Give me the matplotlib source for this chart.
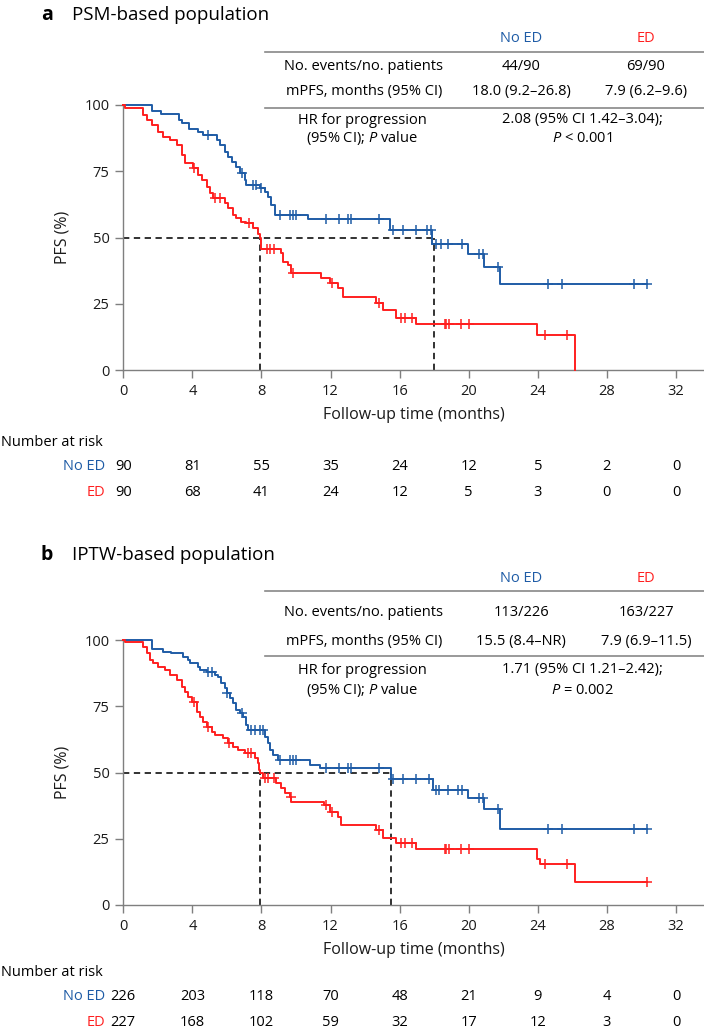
import matplotlib
matplotlib.use("Agg")
import matplotlib.pyplot as plt
from matplotlib.lines import Line2D
from matplotlib.transforms import blended_transform_factory
import numpy as np

plt.rcParams['font.family'] = ['Open Sans', 'DejaVu Sans']
plt.rcParams['mathtext.fontset'] = 'custom'
plt.rcParams['mathtext.rm'] = 'Open Sans'
plt.rcParams['mathtext.it'] = 'Open Sans:italic'

BLUE = '#1f5ca6'
RED = '#ff1f1f'
GREY = '#7f7f7f'

# ---------------- data ----------------
xticks = [0, 4, 8, 12, 16, 20, 24, 28, 32]
yticks = [0, 25, 50, 75, 100]

# Panel a (PSM)
a_noed_t = [0, 1.64, 2.2, 3.2, 3.4, 3.8, 4.3, 4.6, 5.4, 5.6, 5.9, 6.07, 6.27, 6.55, 6.75, 7.03, 7.13,
            7.9, 8.19, 8.38, 8.57, 8.77, 10.7, 15.42, 17.9, 19.94, 20.9, 21.83]
a_noed_s = [100, 97.8, 96.6, 94.4, 93.2, 91.0, 89.8, 88.6, 86.8, 84.9, 82.4, 80.5, 78.6, 76.7, 74.2, 71.7, 69.8,
            68.6, 67.3, 65.4, 62.3, 58.5, 57.0, 52.8, 47.5, 43.8, 39.0, 32.3]
a_noed_end = 30.3
a_noed_cens = [4.9, 6.9, 7.5, 7.7, 8.0, 9.06, 9.64, 9.83, 10.02, 11.75, 12.5, 13.0, 13.2, 14.8, 15.6, 16.2,
               16.97, 17.6, 17.83, 18.1, 18.4, 18.8, 19.6, 20.6, 20.8, 21.7, 24.6, 25.4, 29.6, 30.3]

a_ed_t = [0, 0.1, 1.16, 1.35, 1.64, 2.02, 2.31, 2.7, 3.09, 3.38, 3.57, 4.05, 4.34, 4.53, 4.82, 5.01, 5.2,
          5.88, 6.07, 6.36, 6.55, 6.84, 7.13, 7.51, 7.8, 7.9, 8.0, 9.15, 9.25, 9.54, 9.73, 11.47, 11.95,
          12.43, 12.72, 14.65, 15.03, 15.8, 16.96, 23.93, 26.17]
a_ed_s = [100, 98.7, 96.2, 94.3, 92.5, 89.9, 88.0, 86.8, 84.9, 81.1, 78.0, 76.1, 73.6, 71.7, 69.2, 66.7, 64.8,
          62.9, 61.0, 58.5, 57.2, 55.9, 55.3, 53.5, 51.3, 49.7, 45.5, 44.0, 40.9, 39.6, 36.5, 34.6, 32.7,
          30.8, 27.4, 25.2, 22.6, 19.5, 17.4, 13.2, 0]
a_ed_end = 26.17
a_ed_cens = [4.1, 5.3, 5.6, 7.3, 8.3, 8.5, 8.7, 9.8, 12.1, 14.8, 16.1, 16.3, 16.7, 18.6, 18.7, 18.84,
             19.56, 20.0, 24.4, 25.7]

# Panel b (IPTW)
b_noed_t = [0, 1.64, 2.31, 2.79, 3.47, 3.76, 3.85, 4.34, 4.43, 4.82, 5.3, 5.49, 5.68, 5.88, 5.98, 6.17,
            6.36, 6.55, 6.75, 6.94, 7.13, 7.23, 8.19, 8.38, 8.48, 8.67, 8.96, 10.79, 11.37, 15.51, 17.93,
            19.95, 20.9, 21.83]
b_noed_s = [100, 96.5, 95.6, 94.97, 93.7, 92.5, 91.2, 90.0, 88.7, 88.0, 86.8, 86.2, 83.6, 81.8, 79.9, 78.0,
            76.1, 73.6, 72.3, 71.1, 67.9, 66.0, 63.5, 61.0, 58.5, 56.6, 54.7, 52.8, 51.6, 47.4, 43.4,
            40.3, 36.2, 28.7]
b_noed_end = 30.3
b_noed_cens = [4.91, 5.11, 6.0, 6.9, 7.42, 7.61, 7.9, 8.09, 9.06, 9.64, 9.83, 10.02, 11.75, 12.5, 13.0,
               13.2, 14.8, 15.6, 16.2, 16.96, 17.7, 18.08, 18.3, 18.8, 19.4, 19.6, 20.6, 20.8, 21.7,
               24.6, 25.4, 29.6, 30.3]

b_ed_t = [0, 0.1, 1.16, 1.35, 1.54, 1.73, 2.02, 2.41, 2.7, 3.09, 3.38, 3.57, 3.76, 3.95, 4.24, 4.43, 4.62,
          4.82, 5.11, 5.3, 5.78, 6.07, 6.36, 6.65, 7.03, 7.61, 7.8, 7.85, 7.93, 8.09, 8.86, 9.15, 9.35, 9.64,
          9.73, 11.6, 11.95, 12.43, 12.62, 14.65, 15.03, 15.8, 16.96, 23.93, 24.1, 26.17]
b_ed_s = [100, 99.1, 97.5, 94.97, 92.5, 91.2, 90.0, 88.7, 86.8, 84.9, 82.4, 80.5, 78.6, 76.7, 72.9, 71.0,
          69.2, 67.3, 65.4, 64.2, 62.9, 61.0, 59.7, 58.5, 57.2, 55.3, 53.5, 50.9, 49.7, 47.8, 45.9, 44.0,
          42.1, 40.9, 39.0, 37.7, 35.2, 33.3, 30.2, 28.3, 25.2, 23.3, 21.0, 17.2, 15.5, 8.8]
b_ed_end = 30.3
b_ed_cens = [4.1, 4.9, 6.1, 7.2, 7.4, 8.2, 8.4, 8.7, 9.7, 11.75, 12.1, 14.8, 16.1, 16.3, 16.7, 18.6, 18.7,
             18.84, 19.56, 20.0, 24.4, 25.7, 30.3]

a_median_noed, a_median_ed = 18.0, 7.9
b_median_noed, b_median_ed = 15.5, 7.9

a_risk_noed = [90, 81, 55, 35, 24, 12, 5, 2, 0]
a_risk_ed = [90, 68, 41, 24, 12, 5, 3, 0, 0]
b_risk_noed = [226, 203, 118, 70, 48, 21, 9, 4, 0]
b_risk_ed = [227, 168, 102, 59, 32, 17, 12, 3, 0]

a_title = 'PSM-based population'
b_title = 'IPTW-based population'
a_table = [['44/90', '69/90'], ['18.0 (9.2–26.8)', '7.9 (6.2–9.6)']]
b_table = [['113/226', '163/227'], ['15.5 (8.4–NR)', '7.9 (6.9–11.5)']]
a_hr = ['2.08 (95% CI 1.42–3.04);', r'$\mathit{P}$ < 0.001']
b_hr = ['1.71 (95% CI 1.21–2.42);', r'$\mathit{P}$ = 0.002']

# ---------------- figure ----------------
W, H = 704, 1032
fig = plt.figure(figsize=(W / 100, H / 100), dpi=100)


def fy(py):
    return 1 - py / H


def fx(px):
    return px / W


def step_surv(t, s, tq):
    idx = np.searchsorted(np.asarray(t), tq, side='right') - 1
    return np.asarray(s)[idx]


def draw_panel(top_px, label, title, tbl, hr, curves, medians, risks, ty):
    x0 = 123.3
    ax = fig.add_axes([fx(x0), fy(top_px + 265), fx(W - x0), 265 / H])
    for (t, s, end, cens, col) in curves:
        tt = list(t) + [end]
        ss = list(s) + [s[-1]]
        ax.step(tt, ss, where='post', color=col, lw=1.4, clip_on=False, zorder=3)
        cy = step_surv(t, s, np.asarray(cens))
        ax.plot(cens, cy, ls='none', marker='+', ms=7, mew=1.1, color=col, clip_on=False, zorder=4)
    m_noed, m_ed = medians
    ax.plot([0, m_noed], [50, 50], ls=(0, (3.5, 2.5)), color='#222222', lw=1.3, zorder=2)
    for m in (m_ed, m_noed):
        ax.plot([m, m], [0, 50], ls=(0, (3.5, 2.5)), color='#222222', lw=1.3, zorder=2)
    ax.set_xlim(0, (W - x0) / 17.27)
    ax.set_ylim(0, 100)
    ax.set_xticks(xticks)
    ax.set_yticks(yticks)
    for sp in ('top', 'right'):
        ax.spines[sp].set_visible(False)
    for sp in ('left', 'bottom'):
        ax.spines[sp].set_color(GREY)
        ax.spines[sp].set_linewidth(1.0)
    ax.tick_params(length=6, width=1.0, color=GREY, labelsize=10.5, pad=4, labelcolor='#1a1a1a')
    ax.set_xlabel('Follow-up time (months)', fontsize=11.5, labelpad=6, color='#1a1a1a')
    ax.set_ylabel('PFS (%)', fontsize=11.5, labelpad=10, color='#1a1a1a')
    ax.patch.set_alpha(0)

    # title
    fig.text(fx(41), fy(ty['title']), label, fontsize=14, fontweight='bold', va='center', ha='left')
    fig.text(fx(72), fy(ty['title']), title, fontsize=13.5, va='center', ha='left')

    # table
    c1, c2, cl = 521, 646, 364
    fig.text(fx(c1), fy(ty['head']), 'No ED', color=BLUE, fontsize=10.5, ha='center', va='center')
    fig.text(fx(c2), fy(ty['head']), 'ED', color=RED, fontsize=10.5, ha='center', va='center')
    for yl in (ty['line1'], ty['line2']):
        fig.add_artist(Line2D([fx(265), 1.0], [fy(yl), fy(yl)], color='#888888', lw=1.2))
    row_labels = ['No. events/no. patients', 'mPFS, months (95% CI)']
    for i, yr in enumerate((ty['r1'], ty['r2'])):
        fig.text(fx(cl), fy(yr), row_labels[i], fontsize=10.5, ha='center', va='center')
        fig.text(fx(c1), fy(yr), tbl[i][0], fontsize=10.5, ha='center', va='center')
        fig.text(fx(c2), fy(yr), tbl[i][1], fontsize=10.5, ha='center', va='center')
    fig.text(fx(362), fy(ty['h1']), 'HR for progression', fontsize=10.5, ha='center', va='center')
    fig.text(fx(362), fy(ty['h2']), r'(95% CI); $\mathit{P}$ value', fontsize=10.5, ha='center', va='center')
    fig.text(fx(582), fy(ty['h1']), hr[0], fontsize=10.5, ha='center', va='center')
    fig.text(fx(582), fy(ty['h2']), hr[1], fontsize=10.5, ha='center', va='center')

    # number at risk
    tr = blended_transform_factory(ax.transData, fig.transFigure)
    fig.text(0.002, fy(ty['nar']), 'Number at risk', fontsize=10.5, ha='left', va='center')
    fig.text(fx(105), fy(ty['nar1']), 'No ED', color=BLUE, fontsize=10.5, ha='right', va='center')
    fig.text(fx(105), fy(ty['nar2']), 'ED', color=RED, fontsize=10.5, ha='right', va='center')
    for xv, n1, n2 in zip(xticks, risks[0], risks[1]):
        ax.text(xv, fy(ty['nar1']), str(n1), transform=tr, fontsize=10.5, ha='center', va='center',
                clip_on=False)
        ax.text(xv, fy(ty['nar2']), str(n2), transform=tr, fontsize=10.5, ha='center', va='center',
                clip_on=False)
    return ax


draw_panel(105, 'a', a_title, a_table, a_hr,
           [(a_noed_t, a_noed_s, a_noed_end, a_noed_cens, BLUE),
            (a_ed_t, a_ed_s, a_ed_end, a_ed_cens, RED)],
           (a_median_noed, a_median_ed), (a_risk_noed, a_risk_ed),
           dict(title=15, head=38, line1=52, r1=66.5, r2=92, line2=107.5, h1=120, h2=138,
                nar=442, nar1=467, nar2=493))

draw_panel(640, 'b', b_title, b_table, b_hr,
           [(b_noed_t, b_noed_s, b_noed_end, b_noed_cens, BLUE),
            (b_ed_t, b_ed_s, b_ed_end, b_ed_cens, RED)],
           (b_median_noed, b_median_ed), (b_risk_noed, b_risk_ed),
           dict(title=555, head=578, line1=591, r1=612, r2=641, line2=656, h1=670, h2=690,
                nar=972, nar1=996, nar2=1022))

fig.savefig('out.png', dpi=100)
